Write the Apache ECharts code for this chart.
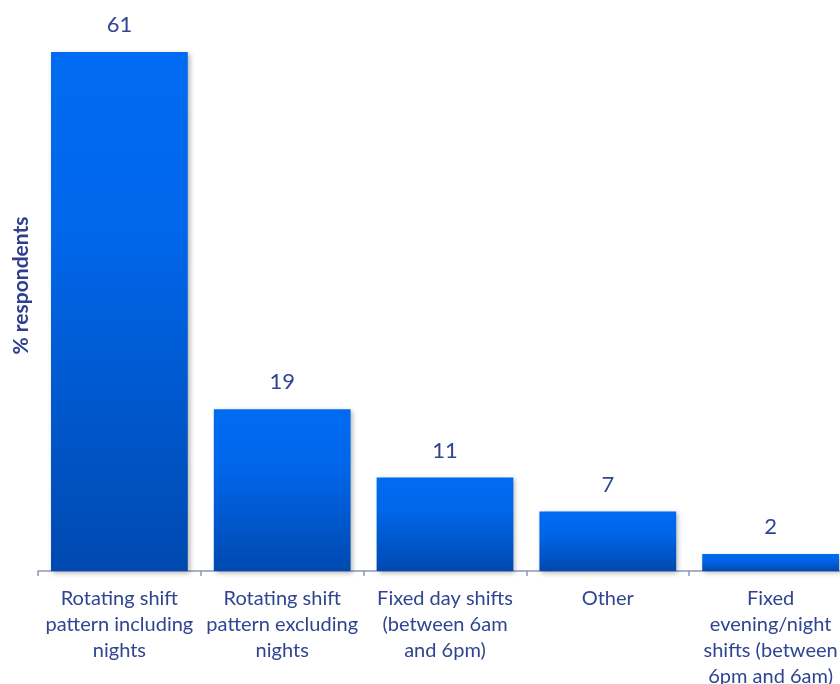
<!DOCTYPE html>
<html>
<head>
<meta charset="utf-8">
<script src="https://cdn.jsdelivr.net/npm/echarts@6/dist/echarts.min.js"></script>
<style>
html,body{margin:0;padding:0;background:#fff;overflow:hidden;}
#chart{width:840px;height:684px;}
</style>
</head>
<body>
<div id="chart"></div>
<script>
const categories = [
  "Rotating shift\npattern including\nnights",
  "Rotating shift\npattern excluding\nnights",
  "Fixed day shifts\n(between 6am\nand 6pm)",
  "Other",
  "Fixed\nevening/night\nshifts (between\n6pm and 6am)"
];
const values = [61, 19, 11, 7, 2];
const yAxisTitle = "% respondents";

const chart = echarts.init(document.getElementById('chart'), null, {renderer: 'canvas'});
const font = 'Lato, "Open Sans", sans-serif';
chart.setOption({
  animation: false,
  grid: {left: 38, right: -12, top: 52, bottom: 113, containLabel: false, outerBoundsMode: 'none'},
  xAxis: {
    type: 'category',
    data: categories,
    axisLine: {show: true, lineStyle: {color: '#8d98b8', width: 1.5}},
    axisTick: {show: true, length: 5, lineStyle: {color: '#8d98b8', width: 1.5}},
    axisLabel: {
      color: '#2f4591', fontFamily: font, fontSize: 20, lineHeight: 26,
      margin: 15, interval: 0, align: 'center'
    }
  },
  yAxis: {
    type: 'value', min: 0, max: 61,
    show: true,
    axisLine: {show: false}, axisTick: {show: false}, axisLabel: {show: false},
    splitLine: {show: false},
    name: yAxisTitle, nameLocation: 'middle', nameGap: 6, nameRotate: 90,
    nameTextStyle: {color: '#2f3f8f', fontFamily: font, fontSize: 21, fontWeight: 'bold', padding: [0, 0, 0, 52]}
  },
  series: [{
    type: 'bar',
    data: values,
    barWidth: '84%',
    itemStyle: {
      color: new echarts.graphic.LinearGradient(0, 0, 0, 1, [
        {offset: 0, color: '#006bf2'},
        {offset: 0.35, color: '#0066ea'},
        {offset: 1, color: '#0049b0'}
      ]),
      shadowColor: 'rgba(0,0,0,0.3)', shadowBlur: 5, shadowOffsetX: 2, shadowOffsetY: 2
    },
    label: {
      show: true, position: 'top', distance: 16,
      color: '#2f4591', fontFamily: font, fontSize: 22
    }
  }]
});
</script>
</body>
</html>
